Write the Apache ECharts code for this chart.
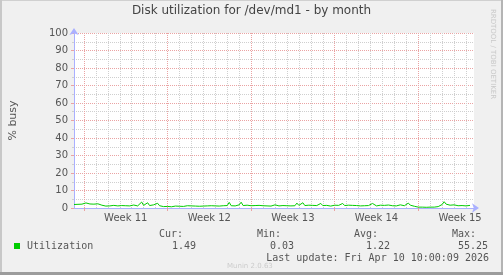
<!DOCTYPE html>
<html>
<head>
<meta charset="utf-8">
<script src="https://cdn.jsdelivr.net/npm/echarts@6/dist/echarts.min.js"></script>
<style>
html,body{margin:0;padding:0;background:#f0f0f0;}
#c{width:503px;height:275px;}
</style>
</head>
<body>
<div id="c"></div>
<script>
// ---- data ----
const titleText = 'Disk utilization for /dev/md1 - by month';
const yAxisName = '% busy';
const stepHours = 4;             // sample spacing
const spanHours = 804;           // visible time span of plot (hours)
const firstWeekStartHour = 20;   // Monday 00:00 of Week 11, hours after plot start
const weekNames = ['Week 11', 'Week 12', 'Week 13', 'Week 14', 'Week 15'];
const yTicks = [0, 10, 20, 30, 40, 50, 60, 70, 80, 90, 100];
const utilization = [
  2.0, 2.3, 2.1, 2.4, 2.2, 2.6, 2.9, 2.5, 2.3, 2.7, 2.2, 2.0, 2.4, 2.1, 1.6,
  1.3, 1.1, 1.4, 1.2, 1.0, 1.5, 1.3, 1.2, 1.6, 1.4, 1.1, 1.3, 1.5, 1.2, 1.4, 1.7, 1.3, 1.2, 1.6,
  3.4,
  1.5, 1.2,
  3.0,
  1.4, 1.3, 1.8, 1.2,
  2.7,
  1.3, 1.0, 0.8, 0.7, 0.9, 0.8,
  0.7, 0.9, 1.1, 0.8, 1.0, 1.2, 0.9, 1.1, 1.3, 1.0, 1.2, 0.9, 1.1, 1.4, 1.0, 1.3, 1.1, 1.5, 1.2, 1.0, 1.3, 1.6, 1.2, 1.4, 1.1, 1.5, 1.3, 1.7,
  1.4,
  3.2,
  1.3, 1.6, 1.2, 1.5, 1.8,
  3.3,
  1.4, 1.2, 1.6,
  2.5,
  1.3, 1.0, 1.4, 1.2, 1.5, 1.1, 1.3, 1.6, 1.2, 1.4, 1.1, 1.5, 1.8, 1.3, 1.2, 1.6, 1.4, 1.1, 1.3, 1.7, 1.2, 1.5, 1.3,
  2.8,
  1.5, 1.3,
  3.0,
  1.4, 1.2, 1.6, 1.3, 1.5, 1.2, 1.4, 1.8,
  2.6,
  1.4, 1.2, 1.5, 1.3, 1.1, 1.4, 1.6, 1.2, 1.5, 1.3,
  2.6,
  1.4, 1.2, 1.6, 1.3, 1.5, 1.1, 1.4, 1.7, 1.2, 1.5, 1.3, 1.6, 1.4, 1.8,
  2.6,
  1.5, 1.2, 1.4, 1.6, 1.3, 1.5, 1.2, 1.7, 1.4, 1.3, 1.6, 1.2, 1.5, 1.8, 1.4, 1.3, 1.9,
  2.8,
  1.6, 1.3, 1.0,
  0.6, 0.5, 0.7, 0.5, 0.6, 0.4, 0.6, 0.5, 0.7, 0.5, 0.6, 0.8, 1.2,
  2.0, 3.6, 2.2, 3.0,
  1.6, 1.4, 1.8, 1.5, 1.3, 1.7, 1.4, 1.6, 1.2, 1.5, 1.49
];
const legendName = 'Utilization';
const statLabels = ['Cur:', 'Min:', 'Avg:', 'Max:'];
const statValues = ['1.49', '0.03', '1.22', '55.25'];
const lastUpdate = 'Last update: Fri Apr 10 10:00:09 2026';
const footer = 'Munin 2.0.63';
const sideText = 'RRDTOOL / TOBI OETIKER';

// ---- build ----
const seriesData = utilization.map((v, i) => [i * stepHours, v]);
const dayLines = [];
for (let h = firstWeekStartHour; h <= spanHours; h += 24) dayLines.push(h);
const weekLines = weekNames.map((_, k) => firstWeekStartHour + k * 168);
const weekCenters = weekNames.map((_, k) => firstWeekStartHour + 84 + k * 168);

const MAJOR = '#eaa3a3';
const MINOR = '#cfcfcf';
const AXIS = '#aab0ff';
const TXT = '#555555';
const MONO = '"DejaVu Sans Mono", monospace';
const SANS = '"DejaVu Sans", sans-serif';

const chart = echarts.init(document.getElementById('c'), null, {renderer: 'canvas'});

const statX = [183, 281, 378, 476];  // right edges of stat labels
const valX = [196, 294, 390, 488];    // right edges of stat values

const graphics = [
  {type: 'rect', shape: {x: 0, y: 0, width: 503, height: 1}, style: {fill: '#d0d0d0'}, silent: true},
  {type: 'rect', shape: {x: 0, y: 0, width: 2, height: 275}, style: {fill: '#c8c8c8'}, silent: true},
  {type: 'rect', shape: {x: 501, y: 0, width: 2, height: 275}, style: {fill: '#b4b4b4'}, silent: true},
  {type: 'rect', shape: {x: 0, y: 272, width: 503, height: 3}, style: {fill: '#9c9c9c'}, silent: true},
  {type: 'text', left: 'center', top: 5, style: {text: titleText, font: '12px ' + SANS, fill: '#444'}},
  {type: 'text', x: 493, y: 54, rotation: -Math.PI / 2,
   style: {text: sideText, font: '7px ' + SANS, fill: '#c8c8c8', align: 'center', verticalAlign: 'middle'}},
  {type: 'rect', shape: {x: 14, y: 243, width: 6, height: 6}, style: {fill: '#00cc00'}},
  {type: 'text', x: 27, y: 246, style: {text: legendName, font: '10px ' + MONO, fill: TXT, verticalAlign: 'middle'}},
  {type: 'text', x: 489, y: 258, style: {text: lastUpdate, font: '10px ' + MONO, fill: TXT, align: 'right', verticalAlign: 'middle'}},
  {type: 'text', x: 227, y: 266, style: {text: footer, font: '7px ' + SANS, fill: '#cccccc', verticalAlign: 'middle'}}
];
statLabels.forEach((s, k) => {
  graphics.push({type: 'text', x: statX[k], y: 234, style: {text: s, font: '10px ' + MONO, fill: TXT, align: 'right', verticalAlign: 'middle'}});
  graphics.push({type: 'text', x: valX[k], y: 246, style: {text: statValues[k], font: '10px ' + MONO, fill: TXT, align: 'right', verticalAlign: 'middle'}});
});

chart.setOption({
  animation: false,
  backgroundColor: '#f0f0f0',
  grid: {left: 72, right: 29, top: 33, bottom: 67, show: true, backgroundColor: '#ffffff', borderWidth: 0, containLabel: false},
  xAxis: {
    type: 'value', min: 0, max: spanHours,
    axisLine: {show: true, lineStyle: {color: AXIS, width: 1}, symbol: ['none', 'arrow'], symbolSize: [7, 7], symbolOffset: [0, 5]},
    axisTick: {show: true, customValues: weekLines, length: 3, lineStyle: {color: MAJOR}},
    axisLabel: {show: true, customValues: weekCenters, formatter: (v) => weekNames[weekCenters.indexOf(v)] || '',
      color: TXT, fontFamily: SANS, fontSize: 10, margin: 5},
    splitLine: {show: false}
  },
  yAxis: {
    type: 'value', min: 0, max: 100, interval: 10,
    name: yAxisName, nameLocation: 'middle', nameGap: 55, nameTextStyle: {color: TXT, fontFamily: SANS, fontSize: 11},
    axisLine: {show: true, lineStyle: {color: AXIS, width: 1}, symbol: ['none', 'arrow'], symbolSize: [7, 7], symbolOffset: [0, 5]},
    axisTick: {show: true, length: 3, lineStyle: {color: MAJOR}},
    minorTick: {show: true, splitNumber: 2, length: 2, lineStyle: {color: MINOR}},
    axisLabel: {color: TXT, fontFamily: SANS, fontSize: 10, margin: 6, formatter: (v) => yTicks.includes(v) ? String(v) : ''},
    splitLine: {show: true, lineStyle: {color: MAJOR, type: [1, 1], width: 1}},
    minorSplitLine: {show: true, lineStyle: {color: MINOR, type: [1, 1], width: 1}}
  },
  series: [
    {type: 'line', data: [], silent: true, z: 1,
     markLine: {silent: true, symbol: ['none', 'none'], label: {show: false}, animation: false,
       lineStyle: {color: MINOR, type: [1, 1], width: 1},
       data: dayLines.filter(h => !weekLines.includes(h)).map(h => ({xAxis: h}))}},
    {type: 'line', data: [], silent: true, z: 1,
     markLine: {silent: true, symbol: ['none', 'none'], label: {show: false}, animation: false,
       lineStyle: {color: MAJOR, type: [1, 1], width: 1},
       data: weekLines.map(h => ({xAxis: h}))}},
    {type: 'line', name: legendName, data: seriesData, showSymbol: false, z: 5,
     lineStyle: {color: '#00cc00', width: 1}, itemStyle: {color: '#00cc00'}}
  ],
  graphic: graphics
});
</script>
</body>
</html>
